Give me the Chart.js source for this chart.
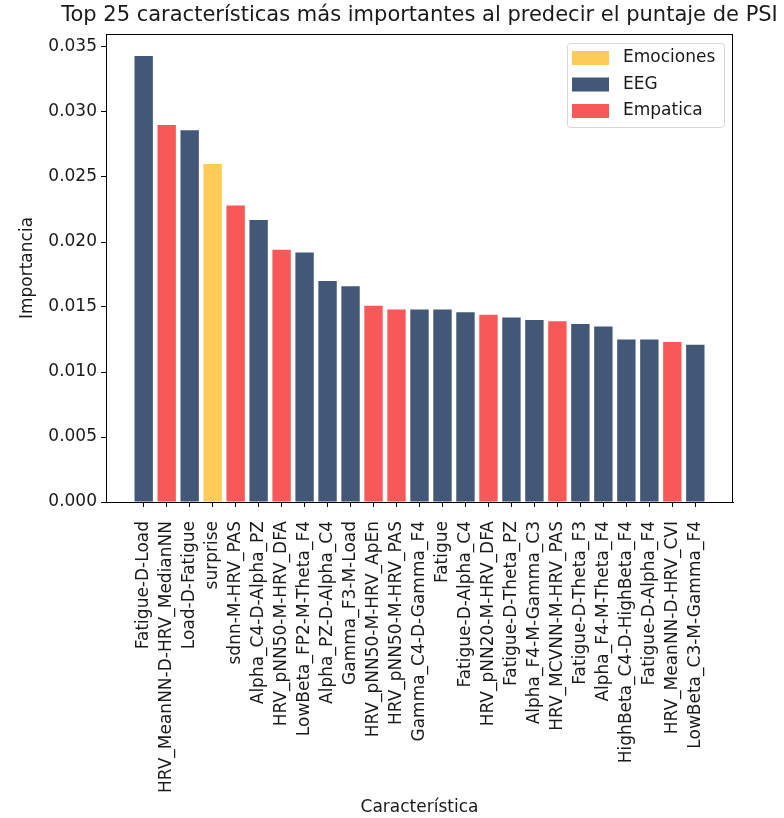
<!DOCTYPE html>
<html>
<head>
<meta charset="utf-8">
<script src="https://cdn.jsdelivr.net/npm/chart.js@4.4.0/dist/chart.umd.min.js"></script>
<style>
  html, body { margin: 0; padding: 0; background: #fff; }
  #wrap { width: 784px; height: 818px; }
</style>
</head>
<body>
<div id="wrap"><canvas id="featChart"></canvas></div>
<script>
// Top 25 características - importancia por grupo
const caracteristicas = [
    'Fatigue-D-Load', 'HRV_MeanNN-D-HRV_MedianNN', 'Load-D-Fatigue', 'surprise',
    'sdnn-M-HRV_PAS', 'Alpha_C4-D-Alpha_PZ', 'HRV_pNN50-M-HRV_DFA', 'LowBeta_FP2-M-Theta_F4',
    'Alpha_PZ-D-Alpha_C4', 'Gamma_F3-M-Load', 'HRV_pNN50-M-HRV_ApEn', 'HRV_pNN50-M-HRV_PAS',
    'Gamma_C4-D-Gamma_F4', 'Fatigue', 'Fatigue-D-Alpha_C4', 'HRV_pNN20-M-HRV_DFA',
    'Fatigue-D-Theta_PZ', 'Alpha_F4-M-Gamma_C3', 'HRV_MCVNN-M-HRV_PAS', 'Fatigue-D-Theta_F3',
    'Alpha_F4-M-Theta_F4', 'HighBeta_C4-D-HighBeta_F4', 'Fatigue-D-Alpha_F4', 'HRV_MeanNN-D-HRV_CVI',
    'LowBeta_C3-M-Gamma_F4'
];
const importancia = [
    0.0343, 0.0290, 0.0286, 0.0260, 0.0228, 0.0217, 0.0194, 0.0192,
    0.0170, 0.0166, 0.0151, 0.0148, 0.0148, 0.0148, 0.0146, 0.0144,
    0.0142, 0.0140, 0.0139, 0.0137, 0.0135, 0.0125, 0.0125, 0.0123,
    0.0121
];
const grupo = [
    'EEG', 'Empatica', 'EEG', 'Emociones', 'Empatica', 'EEG', 'Empatica', 'EEG',
    'EEG', 'EEG', 'Empatica', 'Empatica', 'EEG', 'EEG', 'EEG', 'Empatica',
    'EEG', 'EEG', 'Empatica', 'EEG', 'EEG', 'EEG', 'EEG', 'Empatica',
    'EEG'
];
const grupos = ['Emociones', 'EEG', 'Empatica'];
const coloresGrupo = ['#FCCB58', '#435877', '#F85858'];
const yTicks = [0, 0.005, 0.010, 0.015, 0.020, 0.025, 0.030, 0.035];

const FONT = 'DejaVu Sans';
const TXT = '#1a1a1a';
const FS = 17;

const datasets = grupos.map((g, gi) => ({
    label: g,
    data: caracteristicas.map((c, i) => ({ x: i, y: importancia[i], g: grupo[i] })).filter(p => p.g === g),
    backgroundColor: coloresGrupo[gi],
    borderWidth: 0,
    barPercentage: 0.8,
    categoryPercentage: 1.0,
    grouped: false
}));

const framePlugin = {
    id: 'frame',
    afterDraw(chart) {
        const { ctx, chartArea: a } = chart;
        ctx.save();
        // marco del área
        ctx.strokeStyle = '#000';
        ctx.lineWidth = 1;
        ctx.strokeRect(Math.round(a.left) + 0.5, Math.round(a.top) + 0.5,
            Math.round(a.right - a.left) - 1, Math.round(a.bottom - a.top));

        // título centrado sobre el área
        ctx.fillStyle = TXT;
        ctx.font = '21px "' + FONT + '"';
        ctx.textAlign = 'center';
        ctx.textBaseline = 'middle';
        ctx.fillText('Top 25 características más importantes al predecir el puntaje de PSI',
            (a.left + a.right) / 2, 16);

        // leyenda
        const lx = 567, ly = 43, lw = 157, lh = 84;
        ctx.fillStyle = 'rgba(255,255,255,0.8)';
        ctx.strokeStyle = '#d6d6d6';
        ctx.lineWidth = 1;
        ctx.beginPath();
        ctx.roundRect(lx + 0.5, ly + 0.5, lw, lh, 3);
        ctx.fill();
        ctx.stroke();
        ctx.font = '17px "' + FONT + '"';
        ctx.textAlign = 'left';
        chart.data.datasets.forEach((ds, i) => {
            const yy = ly + 15 + i * 26.5;
            ctx.fillStyle = ds.backgroundColor;
            ctx.fillRect(lx + 5, yy - 7, 37, 14);
            ctx.fillStyle = TXT;
            ctx.fillText(ds.label, lx + 56, yy);
        });
        ctx.restore();
    }
};

new Chart(document.getElementById('featChart'), {
    type: 'bar',
    data: { datasets: datasets },
    options: {
        responsive: true,
        maintainAspectRatio: false,
        animation: false,
        layout: { padding: { top: 34, right: 51, left: 0, bottom: 0 } },
        plugins: {
            legend: { display: false },
            tooltip: { enabled: false }
        },
        scales: {
            x: {
                type: 'linear',
                offset: false,
                min: -1.64,
                max: 25.64,
                afterBuildTicks: axis => { axis.ticks = caracteristicas.map((c, i) => ({ value: i })); },
                afterFit: axis => { axis.height = 316; },
                ticks: {
                    autoSkip: false,
                    maxRotation: 90,
                    minRotation: 90,
                    padding: 14,
                    color: TXT,
                    font: { family: FONT, size: FS },
                    callback: v => caracteristicas[v]
                },
                grid: { offset: false, drawOnChartArea: false, drawTicks: true, tickLength: 5, tickColor: '#000' },
                border: { color: '#000' },
                title: {
                    display: true,
                    text: 'Característica',
                    color: TXT,
                    font: { family: FONT, size: FS },
                    padding: { top: 0, bottom: 0 }
                }
            },
            y: {
                min: 0,
                max: 0.036,
                afterBuildTicks: axis => { axis.ticks = yTicks.map(v => ({ value: v })); },
                afterFit: axis => { axis.width = 106; },
                ticks: {
                    padding: 4,
                    color: TXT,
                    font: { family: FONT, size: FS },
                    callback: v => v.toFixed(3)
                },
                grid: { drawOnChartArea: false, drawTicks: true, tickLength: 5, tickColor: '#000' },
                border: { color: '#000' },
                title: {
                    display: true,
                    text: 'Importancia',
                    color: TXT,
                    font: { family: FONT, size: FS },
                    padding: { top: 17, bottom: 0 }
                }
            }
        }
    },
    plugins: [framePlugin]
});
</script>
</body>
</html>
